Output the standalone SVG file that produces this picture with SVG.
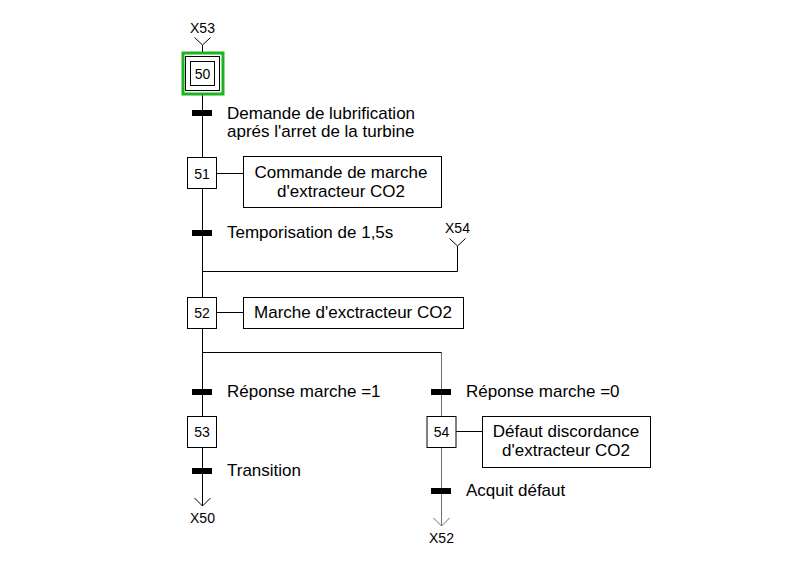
<svg xmlns="http://www.w3.org/2000/svg" width="803" height="565" viewBox="0 0 803 565">
<style>
.ln{stroke:#000;stroke-width:1;fill:none}
.ln2{stroke:#6e6e6e;stroke-width:1;fill:none}
.box{fill:#fff;stroke:#000;stroke-width:1}
.bar{fill:#000}
.t{font-family:"Liberation Sans",Arial,sans-serif;font-size:17px;fill:#000}
.s{font-family:"Liberation Sans",Arial,sans-serif;font-size:14px;fill:#000;text-anchor:middle}
.c{text-anchor:middle}
</style>
<rect width="803" height="565" fill="#fff"/>
<g id="connectors">
<polyline class="ln" points="194.5,37.5 202.5,45 210.5,37.5"/>
<line class="ln" x1="202.5" y1="45" x2="202.5" y2="506"/>
<polyline class="ln" points="202.5,271.5 457.5,271.5 457.5,246"/>
<polyline class="ln" points="449.5,238.5 457.5,246 465.5,238.5"/>
<polyline class="ln" points="202.5,352.5 441.5,352.5 441.5,360"/>
<line class="ln2" x1="441.5" y1="352.5" x2="441.5" y2="526"/>
<polyline class="ln" points="194.5,498 202.5,506 210.5,498"/>
<polyline class="ln2" points="433.5,518 441.5,526 449.5,518"/>
<line class="ln" x1="216" y1="173.5" x2="243" y2="173.5"/>
<line class="ln" x1="216" y1="312.5" x2="243" y2="312.5"/>
<line class="ln" x1="456" y1="431.5" x2="482" y2="431.5"/>
</g>
<g id="ref-X53"><text class="s" x="202.5" y="33">X53</text></g>
<g id="ref-X54"><text class="s" x="457.5" y="233">X54</text></g>
<g id="step50">
<rect x="183" y="53" width="40" height="41" fill="#fff" stroke="#1db31d" stroke-width="3"/>
<rect class="box" x="185.5" y="56.5" width="34" height="34" stroke="#444"/>
<rect class="box" x="190.5" y="61.5" width="24" height="24"/>
<text class="s" x="202.5" y="79">50</text>
</g>
<g id="tr1">
<rect class="bar" x="192" y="110" width="20" height="6"/>
<text class="t" x="227" y="119">Demande de lubrification</text>
<text class="t" x="227" y="137">aprés l'arret de la turbine</text>
</g>
<g id="step51">
<rect class="box" x="187.5" y="157.5" width="29" height="31"/>
<text class="s" x="202" y="179">51</text>
</g>
<g id="action51">
<rect class="box" x="243.5" y="156.5" width="198" height="51"/>
<text class="t c" x="341" y="178">Commande de marche</text>
<text class="t c" x="341" y="197">d'extracteur CO2</text>
</g>
<g id="tr2">
<rect class="bar" x="192" y="230" width="20" height="6"/>
<text class="t" x="227" y="238">Temporisation de 1,5s</text>
</g>
<g id="step52">
<rect class="box" x="187.5" y="297.5" width="29" height="31"/>
<text class="s" x="202" y="318">52</text>
</g>
<g id="action52">
<rect class="box" x="243.5" y="297.5" width="220" height="31"/>
<text class="t c" x="353" y="318">Marche d'exctracteur CO2</text>
</g>
<g id="tr3">
<rect class="bar" x="192" y="389" width="20" height="6"/>
<text class="t" x="227" y="397">Réponse marche =1</text>
</g>
<g id="tr4">
<rect class="bar" x="431" y="389" width="20" height="6"/>
<text class="t" x="466" y="397">Réponse marche =0</text>
</g>
<g id="step53">
<rect class="box" x="187.5" y="416.5" width="29" height="31"/>
<text class="s" x="202" y="437">53</text>
</g>
<g id="step54">
<rect class="box" x="427" y="416.5" width="29" height="31" stroke="#6e6e6e"/>
<text class="s" x="441.5" y="437">54</text>
</g>
<g id="action54">
<rect class="box" x="482.5" y="416.5" width="168" height="51"/>
<text class="t c" x="566" y="437">Défaut discordance</text>
<text class="t c" x="566" y="456">d'extracteur CO2</text>
</g>
<g id="tr5">
<rect class="bar" x="192" y="468" width="20" height="6"/>
<text class="t" x="227" y="476">Transition</text>
</g>
<g id="tr6">
<rect class="bar" x="431" y="488" width="20" height="6"/>
<text class="t" x="466" y="496">Acquit défaut</text>
</g>
<g id="ref-X50"><text class="s" x="202.5" y="523">X50</text></g>
<g id="ref-X52"><text class="s" x="441.5" y="543">X52</text></g>
</svg>
